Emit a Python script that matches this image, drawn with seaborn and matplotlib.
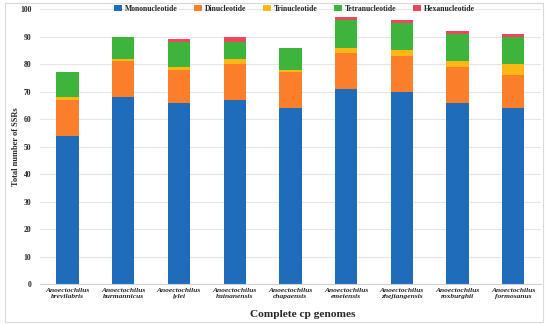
import matplotlib
matplotlib.use("Agg")
from matplotlib import pyplot as plt
from matplotlib.patches import Rectangle
import numpy as np
import pandas as pd
import seaborn as sns

species = ["Anoectochilus\nbrevilabris", "Anoectochilus\nburmannicus", "Anoectochilus\nlylei",
           "Anoectochilus\nhainanensis", "Anoectochilus\nchapaensis", "Anoectochilus\nemeiensis",
           "Anoectochilus\nzhejiangensis", "Anoectochilus\nroxburghii", "Anoectochilus\nformosanus"]
mono = [54, 68, 66, 67, 64, 71, 70, 66, 64]
di = [13, 13, 12, 13, 13, 13, 13, 13, 12]
tri = [1, 1, 1, 2, 1, 2, 2, 2, 4]
tetra = [9, 8, 9, 6, 8, 10, 10, 10, 10]
hexa = [0, 0, 1, 2, 0, 1, 1, 1, 1]

names = ["Mononucleotide", "Dinucleotide", "Trinucleotide", "Tetranucleotide", "Hexanucleotide"]
colors = ["#1f6dba", "#fb7f2b", "#fdb714", "#3db43a", "#ef4560"]

sns.set_style("white")
plt.rcParams["font.family"] = ["Liberation Serif", "DejaVu Serif"]

df = pd.DataFrame({"species": species, "Mononucleotide": mono, "Dinucleotide": di,
                   "Trinucleotide": tri, "Tetranucleotide": tetra, "Hexanucleotide": hexa})
cum = df[names].cumsum(axis=1)

fig = plt.figure(figsize=(5.5, 3.25), dpi=100)
ax = fig.add_axes([0.072, 0.126, 0.912, 0.846])

# stacked bars: draw the tallest cumulative layer first
for name, c in reversed(list(zip(names, colors))):
    sns.barplot(x=df["species"], y=cum[name], color=c, width=0.4, ax=ax,
                label=name, saturation=1, edgecolor="none")

ax.set_ylim(0, 100)
ax.set_yticks(np.arange(0, 101, 10))
ax.yaxis.grid(True, color="#e6e6e6", linewidth=0.8)
ax.set_axisbelow(True)
for s in ["top", "right", "left"]:
    ax.spines[s].set_visible(False)
ax.spines["bottom"].set_color("#d0d0d0")
ax.tick_params(axis="y", length=0, labelsize=5.5, pad=6)
ax.tick_params(axis="x", length=0, labelsize=5.4, pad=3)
for t in ax.get_yticklabels():
    t.set_fontweight("bold")
for t in ax.get_xticklabels():
    t.set_fontweight("bold")
    t.set_fontstyle("italic")
    t.set_horizontalalignment("center")

ax.set_xlabel("Complete cp genomes", fontsize=8.2, fontweight="bold")
ax.xaxis.set_label_coords(0.525, -0.095)
ax.set_ylabel("Total number of SSRs", fontsize=6, fontweight="bold")
ax.yaxis.set_label_coords(-0.04, 0.5)

handles, labels = ax.get_legend_handles_labels()
order = [labels.index(n) for n in names]
ax.legend([handles[i] for i in order], [labels[i] for i in order], loc="center",
          bbox_to_anchor=(0.508, 1.0), ncol=5, frameon=False,
          prop={"size": 5.6, "weight": "bold"}, handlelength=1.0, handleheight=0.8,
          columnspacing=2.1, handletextpad=0.4)

fig.patches.append(Rectangle((0.009, 0.009), 0.978, 0.982, transform=fig.transFigure,
                             fill=False, edgecolor="#d9d9d9", linewidth=0.8))

fig.savefig("out.png", dpi=100)
